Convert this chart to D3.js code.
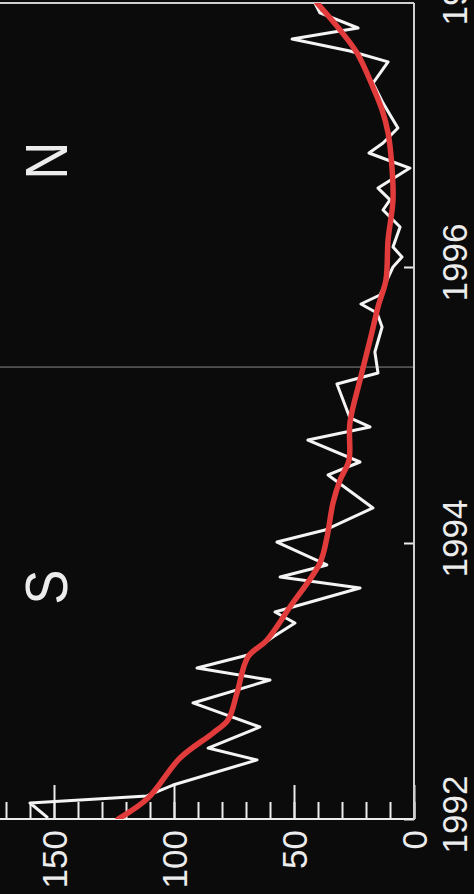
<!DOCTYPE html>
<html><head><meta charset="utf-8">
<script src="https://cdn.jsdelivr.net/npm/d3@7"></script>
<style>html,body{margin:0;padding:0;background:#0b0b0b;}svg{display:block;}</style>
</head><body>
<svg id="chart" width="474" height="894"></svg>
<script>
// ---- data ----
const obsTime = [1992.014,1992.116,1992.167,1992.246,1992.428,1992.514,1992.667,1992.841,1993.007,1993.094,
  1993.188,1993.319,1993.420,1993.500,1993.674,1993.754,1993.841,1994.007,1994.094,1994.254,
  1994.493,1994.587,1994.746,1994.841,1994.906,1995.152,1995.232,1995.384,1995.565,1995.667,
  1995.732,1995.797,1996.000,1996.072,1996.145,1996.290,1996.413,1996.486,1996.572,1996.717,
  1996.761,1996.826,1996.899,1997.007,1997.080,1997.188,1997.333,1997.486,1997.565,1997.652,
  1997.732,1997.841,1997.913];
const obsValue = [152.9,160.0,111.3,100.4,65.4,85.8,64.2,92.1,60.0,90.4,
  69.2,58.8,49.6,57.9,22.5,55.8,36.3,57.1,37.1,17.1,
  35.8,22.5,44.2,18.3,26.7,32.1,15.0,16.3,13.3,15.4,
  22.1,14.2,8.75,5.0,8.75,5.8,12.9,10.0,15.0,1.7,
  8.75,18.75,12.9,6.7,9.2,12.9,17.1,10.8,26.7,50.8,
  23.3,39.2,41.3];
const fitTime = [1992.0,1992.152,1992.442,1992.623,1992.717,1992.913,1993.174,1993.297,1993.536,1993.855,
  1994.043,1994.290,1994.457,1994.601,1994.870,1995.181,1995.471,1995.710,1995.906,1996.196,
  1996.486,1996.725,1996.971,1997.138,1997.304,1997.551,1997.717,1997.913];
const fitValue = [123.3,110.8,97.5,83.75,77.5,73.75,69.2,61.25,51.7,39.2,
  36.25,33.75,30.8,27.1,26.7,22.5,18.3,15.0,11.7,10.8,
  8.75,9.2,10.8,13.3,17.1,23.75,30.8,40.4];
const yearTicks = [1992,1994,1996,1998];
const valueTicks = [0,50,100,150];
const minorTicks = [0,10,20,30,40,50,60,70,80,90,100,110,120,130,140,150,160,170];
const dividerTime = 1995.275;
const regionLabels = ["S","N"];
const regionTimes = [1993.68,1996.77];

// ---- layout ----
const svg = d3.select("#chart");
const W = 474, H = 894;
const plotRight = 414, plotBottom = 819, plotTop = 3, plotLeft = 0;
const yT = d3.scaleLinear().domain([1992,1998]).range([819,-9]);
const xV = d3.scaleLinear().domain([0,150]).range([414,54]);
const fg = "#ececec", frame = "#cfcfcf";
const font = "'Liberation Sans', Arial, Helvetica, sans-serif";

svg.append("rect").attr("width",W).attr("height",H).attr("fill","#0b0b0b");

svg.append("defs").append("clipPath").attr("id","clip")
  .append("rect").attr("x",plotLeft).attr("y",plotTop)
  .attr("width",plotRight-plotLeft).attr("height",plotBottom-plotTop);

// divider line
svg.append("line").attr("x1",plotLeft).attr("x2",plotRight)
  .attr("y1",yT(dividerTime)).attr("y2",yT(dividerTime))
  .attr("stroke","#8a8a8a").attr("stroke-width",1);

// minor value ticks
const gMinor = svg.append("g").attr("transform",`translate(0,${plotBottom})`)
  .call(d3.axisBottom(xV).tickValues(minorTicks).tickSize(-17).tickFormat(""));
gMinor.select(".domain").remove();
gMinor.selectAll("line").attr("stroke",fg).attr("stroke-width",2);

// major value ticks + labels
const gVal = svg.append("g").attr("transform",`translate(0,${plotBottom})`)
  .call(d3.axisBottom(xV).tickValues(valueTicks).tickSize(-34).tickFormat(d3.format("d")));
gVal.select(".domain").remove();
gVal.selectAll("line").attr("stroke",fg).attr("stroke-width",2);
gVal.selectAll("text")
  .attr("fill",fg).attr("font-family",font).attr("font-size",35)
  .attr("text-anchor","end").attr("y",0).attr("dy","0.35em")
  .attr("transform","translate(0,11) rotate(-90)");

// time axis
const gTime = svg.append("g").attr("transform",`translate(${plotRight},0)`)
  .call(d3.axisRight(yT).tickValues(yearTicks).tickSize(-10).tickFormat(d3.format("d")));
gTime.select(".domain").remove();
gTime.selectAll("line").attr("stroke",fg).attr("stroke-width",2);
gTime.selectAll("text")
  .attr("fill",fg).attr("font-family",font).attr("font-size",35)
  .attr("text-anchor","middle").attr("x",0).attr("dy","0.35em")
  .attr("transform","translate(41,-5) rotate(-90)");

// frame
const fr = svg.append("g").attr("stroke",frame).attr("stroke-width",2).attr("fill","none");
fr.append("line").attr("x1",plotLeft).attr("x2",plotRight+1).attr("y1",plotBottom).attr("y2",plotBottom).attr("stroke",fg);
fr.append("line").attr("x1",plotRight).attr("x2",plotRight).attr("y1",plotTop).attr("y2",plotBottom+1);
fr.append("line").attr("x1",plotLeft).attr("x2",plotRight).attr("y1",plotTop).attr("y2",plotTop);

// data lines
const gData = svg.append("g").attr("clip-path","url(#clip)");
const obs = obsTime.map((t,i)=>({t, v: obsValue[i]}));
const fit = fitTime.map((t,i)=>({t, v: fitValue[i]}));
gData.append("path").datum(obs)
  .attr("d", d3.line().x(d=>xV(d.v)).y(d=>yT(d.t)))
  .attr("fill","none").attr("stroke","#f4f4f4").attr("stroke-width",3)
  .attr("stroke-linejoin","round").attr("stroke-linecap","round");
gData.append("path").datum(fit)
  .attr("d", d3.line().x(d=>xV(d.v)).y(d=>yT(d.t)).curve(d3.curveCatmullRom))
  .attr("fill","none").attr("stroke","#e23b3b").attr("stroke-width",5.5)
  .attr("stroke-linejoin","round").attr("stroke-linecap","round");

// region labels
svg.selectAll(".region").data(regionLabels).enter().append("text")
  .attr("class","region")
  .attr("transform",(d,i)=>`translate(45,${yT(regionTimes[i])}) rotate(-90) scale(0.87,1)`)
  .attr("text-anchor","middle").attr("dy","0.36em")
  .attr("fill",fg).attr("font-family",font).attr("font-size",60)
  .text(d=>d);
</script>
</body></html>
